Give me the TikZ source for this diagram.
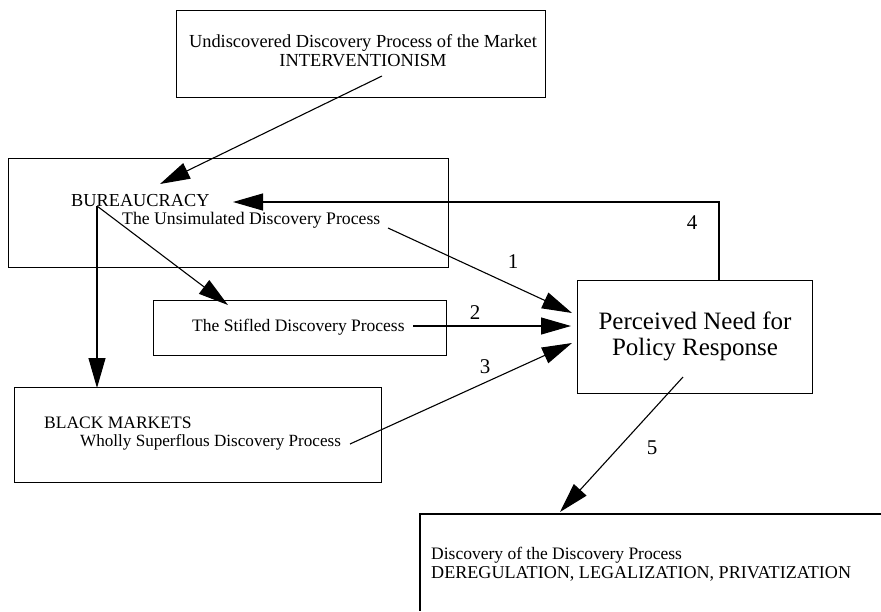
\documentclass[tikz,border=0pt]{standalone}
\usepackage{fontspec}
\setmainfont{Liberation Serif}
\usetikzlibrary{arrows.meta}
\begin{document}
\begin{tikzpicture}[x=1pt,y=-1pt,
  box/.style={draw,line width=1.1pt,inner sep=0pt,anchor=north west},
  txt/.style={inner sep=0pt,font=\fontsize{17.5}{19}\selectfont},
  ltxt/.style={txt,anchor=west},
  big/.style={inner sep=0pt,font=\fontsize{25}{28}\selectfont,align=center},
  num/.style={inner sep=0pt,font=\fontsize{21}{21}\selectfont},
  arr/.style={line width=1.1pt,-{Triangle[length=30pt,width=17pt]}},
  ln/.style={line width=1.1pt}]
\useasboundingbox (0,0) rectangle (881,611);
% boxes
\node[box,minimum width=369pt,minimum height=87pt] (topbox) at (176,10) {};
\node[box,minimum width=440pt,minimum height=109pt] (bur) at (8,158) {};
\node[box,minimum width=293pt,minimum height=55pt] (stif) at (153,300) {};
\node[box,minimum width=367pt,minimum height=95pt] (black) at (14,387) {};
\node[box,minimum width=235pt,minimum height=113pt] (need) at (577,280) {};
\draw[ln] (881,514) coordinate (dtr) -- (420,514) coordinate (dtl) -- (420,611) coordinate (dbl);
% texts
\node[txt,font=\fontsize{18.4}{20}\selectfont] (t1) at (363,43) {Undiscovered Discovery Process of the Market};
\node[txt,font=\fontsize{18.4}{20}\selectfont] (t2) at (363,61) {INTERVENTIONISM};
\node[ltxt,font=\fontsize{18.3}{20}\selectfont] (bt) at (71,201) {BUREAUCRACY};
\node[ltxt,font=\fontsize{17.7}{19}\selectfont] (ut) at (122,220) {The Unsimulated Discovery Process};
\node[ltxt] (st) at (192,327) {The Stifled Discovery Process};
\node[ltxt] (bm) at (44,423) {BLACK MARKETS};
\node[ltxt,font=\fontsize{17.1}{19}\selectfont] (wt) at (80,442) {Wholly Superflous Discovery Process};
\node[big] (pn) at (695,336) {Perceived Need for\\[-2pt]Policy Response};
\node[ltxt] (d1) at (431,555) {Discovery of the Discovery Process};
\node[ltxt,font=\fontsize{18.1}{20}\selectfont] (d2) at (431,574) {DEREGULATION, LEGALIZATION, PRIVATIZATION};
% numbers
\node[num] (n1) at (513,262) {1};
\node[num] (n2) at (475,313) {2};
\node[num] (n3) at (485,367) {3};
\node[num] (n4) at (692,223) {4};
\node[num] (n5) at (652,448) {5};
% connector points
\coordinate (a0s) at (382,76);
\coordinate (a0e) at (160,184);
\coordinate (bs) at (97,206);
\coordinate (be) at (97,388);
\coordinate (se) at (228,305);
\coordinate (a1s) at (388,228);
\coordinate (a1e) at (572,313);
\coordinate (a2s) at (413,326);
\coordinate (a2e) at (571,326);
\coordinate (a3s) at (350,444);
\coordinate (a3e) at (572,343);
\coordinate (a4s) at (719,280);
\coordinate (a4c) at (719,202);
\coordinate (a4e) at (233,202);
\coordinate (a5s) at (683,377);
\coordinate (a5e) at (560,512);
% connectors
\draw[arr] (a0s) -- (a0e);
\draw[arr] (bs) -- (be);
\draw[arr] (bs) -- (se);
\draw[arr] (a1s) -- (a1e);
\draw[arr] (a2s) -- (a2e);
\draw[arr] (a3s) -- (a3e);
\draw[arr] (a4s) -- (a4c) -- (a4e);
\draw[arr] (a5s) -- (a5e);
\end{tikzpicture}
\end{document}
